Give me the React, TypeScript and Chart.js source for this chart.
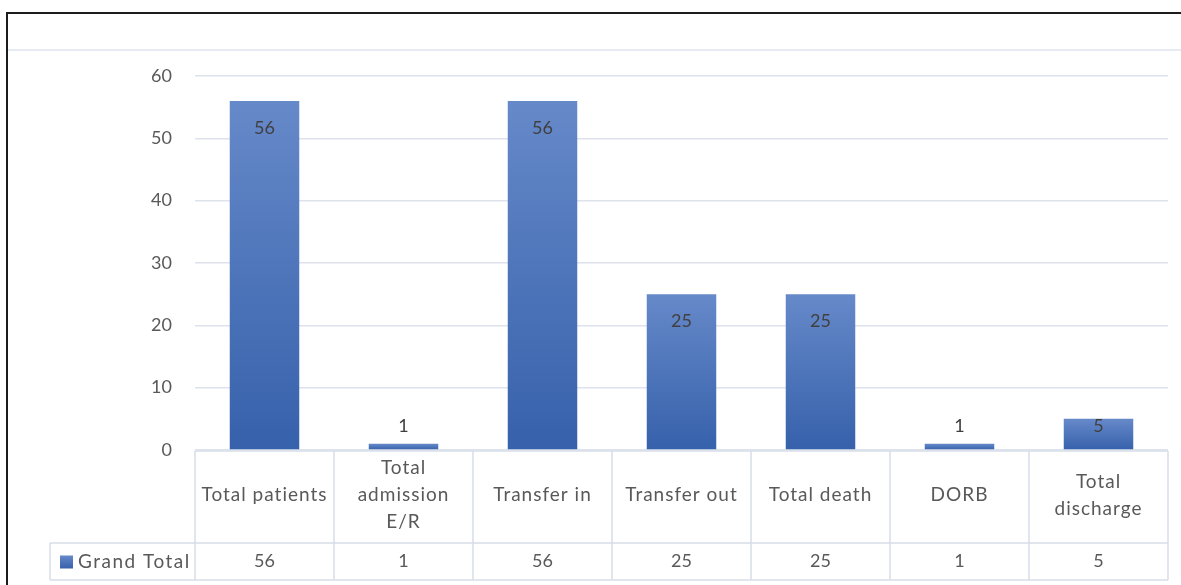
import React, { useEffect, useRef } from 'react';
import { Chart, registerables } from 'chart.js';

Chart.register(...registerables);

// ---- data ----
const categories: string[][] = [
  ['Total patients'],
  ['Total', 'admission', 'E/R'],
  ['Transfer in'],
  ['Transfer out'],
  ['Total death'],
  ['DORB'],
  ['Total', 'discharge'],
];
const seriesName = 'Grand Total';
const values = [56, 1, 56, 25, 25, 1, 5];
const yMin = 0;
const yMax = 60;
const yStep = 10;

const FONT = 'Lato, "Open Sans", "DejaVu Sans", sans-serif';
const TEXT = '#595959';
const LABEL = '#404040';
const GRID = '#DDE2EC';
const TABLE_LINE = '#D6DDE9';
const BAR_TOP = '#6689C9';
const BAR_BOTTOM = '#3661AB';

const framePlugin = {
  id: 'frame',
  beforeDraw(chart: any) {
    const { ctx, width, height } = chart;
    ctx.save();
    ctx.fillStyle = '#ffffff';
    ctx.fillRect(0, 0, width, height);
    ctx.strokeStyle = '#1c1c1c';
    ctx.lineWidth = 2;
    ctx.beginPath();
    ctx.moveTo(7, height);
    ctx.lineTo(7, 13);
    ctx.lineTo(width, 13);
    ctx.stroke();
    ctx.strokeStyle = '#DCE3EF';
    ctx.lineWidth = 1.5;
    ctx.beginPath();
    ctx.moveTo(8, 50);
    ctx.lineTo(width, 50);
    ctx.stroke();
    ctx.restore();
  },
};

const labelPlugin = {
  id: 'barLabels',
  afterDatasetsDraw(chart: any) {
    const { ctx, chartArea } = chart;
    const meta = chart.getDatasetMeta(0);
    ctx.save();
    ctx.font = `18px ${FONT}`;
    ctx.fillStyle = LABEL;
    ctx.textAlign = 'center';
    ctx.textBaseline = 'middle';
    meta.data.forEach((el: any, i: number) => {
      const y = Math.min(el.y + 27, chartArea.bottom - 24);
      ctx.fillText(String(values[i]), el.x, y);
    });
    ctx.restore();
  },
};

const tablePlugin = {
  id: 'dataTable',
  afterDraw(chart: any) {
    const { ctx, chartArea } = chart;
    const xs = chart.scales.x;
    const n = categories.length;
    const colW = (chartArea.right - chartArea.left) / n;
    const top = chartArea.bottom + 1;
    const mid = top + 92;
    const bot = mid + 37;
    const rowLeft = 50;
    ctx.save();
    ctx.strokeStyle = TABLE_LINE;
    ctx.lineWidth = 1.5;
    ctx.beginPath();
    ctx.moveTo(chartArea.left, top);
    ctx.lineTo(chartArea.right, top);
    ctx.moveTo(rowLeft, mid);
    ctx.lineTo(chartArea.right, mid);
    ctx.moveTo(rowLeft, bot);
    ctx.lineTo(chartArea.right, bot);
    ctx.moveTo(rowLeft, mid);
    ctx.lineTo(rowLeft, bot);
    for (let i = 0; i <= n; i++) {
      const x = chartArea.left + i * colW;
      ctx.moveTo(x, top);
      ctx.lineTo(x, bot);
    }
    ctx.stroke();

    ctx.fillStyle = TEXT;
    ctx.textAlign = 'center';
    ctx.textBaseline = 'middle';
    const lineH = 27;
    categories.forEach((lines, i) => {
      const cx = xs.getPixelForValue(i);
      const startY = (top + mid) / 2 - 2 - ((lines.length - 1) * lineH) / 2;
      ctx.font = `19px ${FONT}`;
      (ctx as any).letterSpacing = '1px';
      lines.forEach((ln, j) => ctx.fillText(ln, cx, startY + j * lineH));
      ctx.font = `18px ${FONT}`;
      (ctx as any).letterSpacing = '0px';
      ctx.fillText(String(values[i]), cx, (mid + bot) / 2);
    });

    // legend key
    const ky = (mid + bot) / 2;
    const g = ctx.createLinearGradient(0, ky - 6, 0, ky + 7);
    g.addColorStop(0, BAR_TOP);
    g.addColorStop(1, BAR_BOTTOM);
    ctx.fillStyle = g;
    ctx.fillRect(60, ky - 6, 13, 13);
    ctx.fillStyle = TEXT;
    ctx.textAlign = 'left';
    ctx.font = `19px ${FONT}`;
    (ctx as any).letterSpacing = '1.5px';
    ctx.fillText(seriesName, 78, ky);
    (ctx as any).letterSpacing = '0px';
    ctx.restore();
  },
};

export default function App() {
  const ref = useRef<HTMLCanvasElement | null>(null);

  useEffect(() => {
    if (!ref.current) return;
    const chart = new Chart(ref.current, {
      type: 'bar',
      data: {
        labels: categories,
        datasets: [
          {
            label: seriesName,
            data: values,
            categoryPercentage: 0.5,
            barPercentage: 1,
            borderWidth: 0,
            backgroundColor: (c: any) => {
              const ch = c.chart;
              const ys = ch.scales && ch.scales.y;
              if (!ch.chartArea || !ys || c.raw == null) return BAR_BOTTOM;
              const yTop = ys.getPixelForValue(c.raw);
              const yBase = ys.getPixelForValue(0);
              if (!isFinite(yTop) || !isFinite(yBase) || yBase - yTop < 1) return BAR_BOTTOM;
              const g = ch.ctx.createLinearGradient(0, yTop, 0, yBase);
              g.addColorStop(0, BAR_TOP);
              g.addColorStop(1, BAR_BOTTOM);
              return g;
            },
          },
        ],
      },
      options: {
        responsive: false,
        animation: false,
        layout: { padding: { left: 0, right: 13, top: 76, bottom: 135 } },
        plugins: {
          legend: { display: false },
          tooltip: { enabled: false },
          title: { display: false },
        },
        scales: {
          x: {
            display: false,
          },
          y: {
            min: yMin,
            max: yMax,
            afterFit: (s: any) => {
              s.width = 195;
            },
            ticks: {
              stepSize: yStep,
              color: TEXT,
              padding: 23,
              font: { family: FONT, size: 18 },
            },
            grid: { color: GRID, lineWidth: 1.5, drawTicks: false },
            border: { display: false },
          },
        },
      },
      plugins: [framePlugin, labelPlugin, tablePlugin],
    });
    return () => chart.destroy();
  }, []);

  return (
    <div style={{ position: 'absolute', left: 0, top: 0, width: 1181, height: 585, background: '#fff' }}>
      <canvas ref={ref} width={1181} height={585} style={{ display: 'block' }} />
    </div>
  );
}
